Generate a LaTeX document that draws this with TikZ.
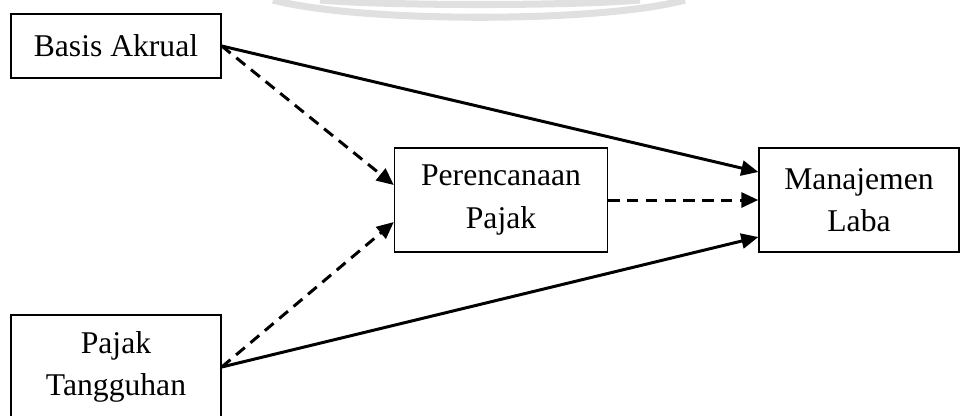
\documentclass[tikz,border=0pt]{standalone}
\usepackage{fontspec}
\setmainfont{Liberation Serif}
\usetikzlibrary{arrows.meta}

\begin{document}
\begin{tikzpicture}[
  block/.style={rectangle, draw, line width=0.8pt, inner sep=0pt, minimum height=2.08cm, align=center, font=\fontsize{18}{24}\selectfont},
  link/.style={-{Triangle[length=0.34cm,width=0.3cm]}, line width=1.7pt},
  indirect/.style={link, dash pattern=on 6.5pt off 4.2pt},
  node distance=7.16cm
]
\useasboundingbox (0,0) rectangle (19.2,-8.3);

% Faint arcs along the top edge
\draw[black!12, line width=4pt] (5.46,0) .. controls (7.2,-0.46) and (12.0,-0.46) .. (13.7,0);
\draw[black!12, line width=4pt] (6.4,0) .. controls (7.8,-0.12) and (11.4,-0.12) .. (12.8,0);

% Independent variables
\node[block, minimum width=4.2cm, minimum height=1.28cm] (akrual) at (2.32,-0.92) {Basis Akrual};
\node[block, minimum width=4.2cm, below of=akrual, node distance=6.42cm] (tangguhan) {Pajak\\Tangguhan};

% Intervening and dependent variables
\node[block, minimum width=4.26cm] (pajak) at (10.02,-4.0) {Perencanaan\\Pajak};
\node[block, minimum width=4.0cm, right of=pajak] (laba) {Manajemen\\Laba};

% Direct paths
\draw[link] (akrual.east) -- ([yshift=0.56cm]laba.west);
\draw[link] (tangguhan.east) -- ([yshift=-0.74cm]laba.west);

% Indirect paths
\draw[indirect] (akrual.east) -- ([yshift=0.3cm]pajak.west);
\draw[indirect] (tangguhan.east) -- ([yshift=-0.44cm]pajak.west);
\draw[indirect] (pajak.east) -- (laba.west);
\end{tikzpicture}
\end{document}
